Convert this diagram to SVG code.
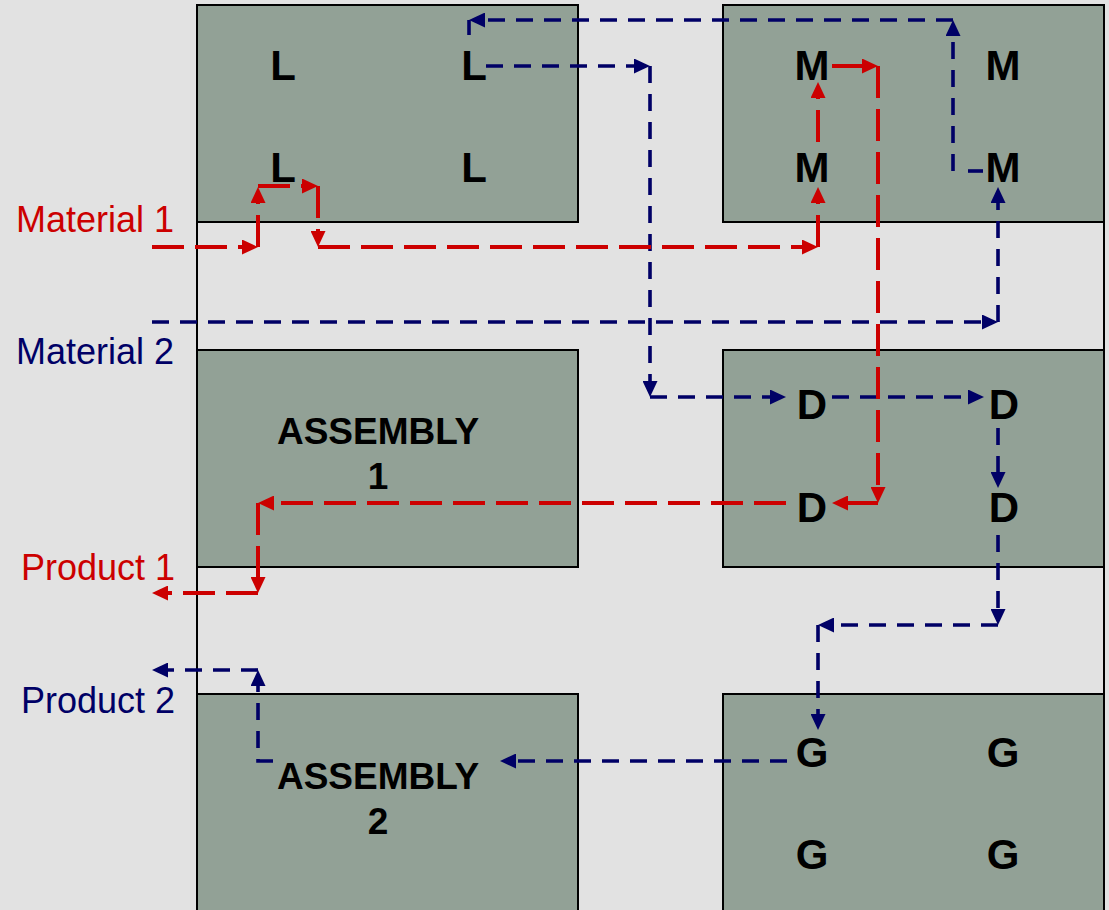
<svg xmlns="http://www.w3.org/2000/svg" width="1109" height="910" viewBox="0 0 1109 910">
  <style>
    .box { fill: #92a196; stroke: #000; stroke-width: 2; }
    .lbl { font-family: "Liberation Sans", Arial, sans-serif; font-weight: bold; font-size: 42px; fill: #000; text-anchor: middle; }
    .asm { font-family: "Liberation Sans", Arial, sans-serif; font-weight: bold; font-size: 37px; fill: #000; text-anchor: middle; }
    .side { font-family: "Liberation Sans", Arial, sans-serif; font-size: 36px; }
    .red { fill: #cc0000; }
    .navy { fill: #000066; }
    .rl { fill: none; stroke: #cc0000; stroke-width: 4; stroke-dasharray: 32 11; }
    .bl { fill: none; stroke: #000066; stroke-width: 3.6; stroke-dasharray: 17 11; }
  </style>
  <defs>
    <marker id="ar" markerUnits="userSpaceOnUse" markerWidth="16" markerHeight="15" refX="10" refY="7.5" orient="auto">
      <path d="M0,0 L16,7.5 L0,15 Z" fill="#cc0000"/>
    </marker>
    <marker id="ab" markerUnits="userSpaceOnUse" markerWidth="16" markerHeight="15" refX="10" refY="7.5" orient="auto">
      <path d="M0,0 L16,7.5 L0,15 Z" fill="#000066"/>
    </marker>
  </defs>

  <rect x="0" y="0" width="1109" height="910" fill="#e2e2e2"/>
  <g id="frame" stroke="#000" stroke-width="2">
    <line x1="197" y1="5" x2="197" y2="910"/>
    <line x1="1104" y1="5" x2="1104" y2="910"/>
  </g>

  <g id="node-L">
    <rect class="box" x="197" y="5" width="381" height="217"/>
    <text class="lbl" x="283" y="80">L</text>
    <text class="lbl" x="474" y="80">L</text>
    <text class="lbl" x="283" y="182">L</text>
    <text class="lbl" x="474" y="182">L</text>
  </g>
  <g id="node-M">
    <rect class="box" x="723" y="5" width="381" height="217"/>
    <text class="lbl" x="812" y="80">M</text>
    <text class="lbl" x="1003" y="80">M</text>
    <text class="lbl" x="812" y="182">M</text>
    <text class="lbl" x="1003" y="182">M</text>
  </g>
  <g id="node-assembly1">
    <rect class="box" x="197" y="350" width="381" height="217"/>
    <text class="asm" x="378" y="444">ASSEMBLY</text>
    <text class="asm" x="378" y="489">1</text>
  </g>
  <g id="node-D">
    <rect class="box" x="723" y="350" width="381" height="217"/>
    <text class="lbl" x="812" y="419">D</text>
    <text class="lbl" x="1004" y="419">D</text>
    <text class="lbl" x="812" y="522">D</text>
    <text class="lbl" x="1004" y="522">D</text>
  </g>
  <g id="node-assembly2">
    <rect class="box" x="197" y="694" width="381" height="230"/>
    <text class="asm" x="378" y="789">ASSEMBLY</text>
    <text class="asm" x="378" y="834">2</text>
  </g>
  <g id="node-G">
    <rect class="box" x="723" y="694" width="381" height="230"/>
    <text class="lbl" x="812" y="767">G</text>
    <text class="lbl" x="1003" y="767">G</text>
    <text class="lbl" x="812" y="869">G</text>
    <text class="lbl" x="1003" y="869">G</text>
  </g>

  <g id="side-labels">
    <text class="side red" x="16" y="232">Material 1</text>
    <text class="side navy" x="16" y="364">Material 2</text>
    <text class="side red" x="21" y="580">Product 1</text>
    <text class="side navy" x="21" y="713">Product 2</text>
  </g>

  <g id="connectors">
    <g id="material2-flow">
      <line class="bl" x1="152" y1="322" x2="992" y2="322" marker-end="url(#ab)"/>
      <line class="bl" x1="998" y1="322" x2="998" y2="193" marker-end="url(#ab)"/>
      <line class="bl" x1="983" y1="171" x2="968" y2="171" stroke-dasharray="none"/>
      <line class="bl" x1="953" y1="171" x2="953" y2="26" marker-end="url(#ab)"/>
      <line class="bl" x1="953" y1="20" x2="475" y2="20" marker-end="url(#ab)"/>
      <line class="bl" x1="469" y1="20" x2="469" y2="35" stroke-dasharray="none"/>
      <line class="bl" x1="486" y1="66" x2="644" y2="66" marker-end="url(#ab)"/>
      <line class="bl" x1="650" y1="66" x2="650" y2="391" marker-end="url(#ab)"/>
      <line class="bl" x1="650" y1="397" x2="780" y2="397" marker-end="url(#ab)"/>
      <line class="bl" x1="832" y1="397" x2="978" y2="397" marker-end="url(#ab)"/>
      <line class="bl" x1="998" y1="428" x2="998" y2="482" marker-end="url(#ab)"/>
      <line class="bl" x1="998" y1="535" x2="998" y2="619" marker-end="url(#ab)"/>
      <line class="bl" x1="998" y1="625" x2="824" y2="625" marker-end="url(#ab)"/>
      <line class="bl" x1="818" y1="625" x2="818" y2="724" marker-end="url(#ab)"/>
      <line class="bl" x1="787" y1="761" x2="506" y2="761" marker-end="url(#ab)"/>
      <polyline class="bl" points="273,761 258,761 258,676" marker-end="url(#ab)"/>
      <line class="bl" x1="258" y1="670" x2="158" y2="670" marker-end="url(#ab)"/>
    </g>
    <g id="material1-flow">
      <line class="rl" x1="152" y1="247" x2="252" y2="247" marker-end="url(#ar)"/>
      <line class="rl" x1="258" y1="247" x2="258" y2="193" marker-end="url(#ar)"/>
      <line class="rl" x1="258" y1="186" x2="312" y2="186" marker-end="url(#ar)"/>
      <line class="rl" x1="318" y1="186" x2="318" y2="241" marker-end="url(#ar)"/>
      <line class="rl" x1="318" y1="247" x2="812" y2="247" marker-end="url(#ar)"/>
      <line class="rl" x1="818" y1="247" x2="818" y2="193" marker-end="url(#ar)"/>
      <line class="rl" x1="818" y1="142" x2="818" y2="88" marker-end="url(#ar)"/>
      <line class="rl" x1="832" y1="66" x2="872" y2="66" marker-end="url(#ar)"/>
      <line class="rl" x1="878" y1="66" x2="878" y2="497" marker-end="url(#ar)"/>
      <line class="rl" x1="878" y1="503" x2="838" y2="503" marker-end="url(#ar)"/>
      <line class="rl" x1="786" y1="503" x2="264" y2="503" marker-end="url(#ar)"/>
      <line class="rl" x1="258" y1="503" x2="258" y2="587" marker-end="url(#ar)"/>
      <line class="rl" x1="258" y1="593" x2="158" y2="593" marker-end="url(#ar)"/>
    </g>
  </g>
</svg>
